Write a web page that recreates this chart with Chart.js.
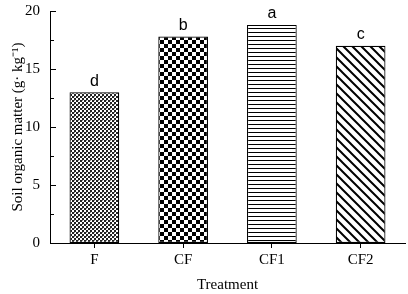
<!DOCTYPE html>
<html>
<head>
<meta charset="utf-8">
<script src="https://cdn.jsdelivr.net/npm/chart.js@4.4.1/dist/chart.umd.min.js"></script>
<style>
  html, body { margin: 0; padding: 0; background: #fff; }
  #wrap { width: 408px; height: 294px; }
</style>
</head>
<body>
<div id="wrap"><canvas id="myChart"></canvas></div>
<script>
// treatments and soil organic matter values (g kg-1)
let treatments = ['F', 'CF', 'CF1', 'CF2'];
let somValues = [13.0, 17.8, 18.8, 17.0];
// significance letters above bars
let sigLetters = ['d', 'b', 'a', 'c'];
// y axis ticks
let majorTicks = [0, 5, 10, 15, 20];
let minorTicks = [2.5, 7.5, 12.5, 17.5];

// make the fill patterns for each bar
function makePattern(kind) {
    let c = document.createElement('canvas');
    let ctx = c.getContext('2d');
    if (kind === 'fine') {
        c.width = 4; c.height = 4;
        ctx.fillStyle = '#fff';
        ctx.fillRect(0, 0, 4, 4);
        ctx.fillStyle = '#222';
        ctx.fillRect(0, 0, 2, 2);
        ctx.fillRect(2, 2, 2, 2);
        ctx.fillStyle = '#888';
        ctx.fillRect(2, 0, 1, 1);
    } else if (kind === 'checker') {
        c.width = 8; c.height = 8;
        ctx.fillStyle = '#fff';
        ctx.fillRect(0, 0, 8, 8);
        ctx.fillStyle = '#000';
        ctx.fillRect(0, 0, 4, 4);
        ctx.fillRect(4, 4, 4, 4);
    } else if (kind === 'hlines') {
        c.width = 4; c.height = 4;
        ctx.fillStyle = '#fff';
        ctx.fillRect(0, 0, 4, 4);
        ctx.fillStyle = '#000';
        ctx.fillRect(0, 0, 4, 1);
    } else {
        c.width = 9; c.height = 9;
        ctx.fillStyle = '#fff';
        ctx.fillRect(0, 0, 9, 9);
        ctx.strokeStyle = '#000';
        ctx.lineWidth = 2;
        ctx.beginPath();
        ctx.moveTo(-2, -2); ctx.lineTo(11, 11);
        ctx.moveTo(-2, 7); ctx.lineTo(2, 11);
        ctx.moveTo(7, -2); ctx.lineTo(11, 2);
        ctx.stroke();
    }
    return ctx.createPattern(c, 'repeat');
}

let patterns = [makePattern('fine'), makePattern('checker'), makePattern('hlines'), makePattern('diag')];

// draws inward y ticks and letters above the bars
const extras = {
    id: 'extras',
    afterDatasetsDraw(chart) {
        let ctx = chart.ctx;
        let y = chart.scales.y;
        let left = chart.chartArea.left;
        ctx.save();
        ctx.strokeStyle = '#000';
        ctx.lineWidth = 1;
        ctx.beginPath();
        majorTicks.forEach(v => {
            let py = Math.round(y.getPixelForValue(v)) + 0.5;
            ctx.moveTo(left, py); ctx.lineTo(left + 6, py);
        });
        minorTicks.forEach(v => {
            let py = Math.round(y.getPixelForValue(v)) + 0.5;
            ctx.moveTo(left, py); ctx.lineTo(left + 4, py);
        });
        ctx.stroke();

        let meta = chart.getDatasetMeta(0);
        ctx.fillStyle = '#000';
        ctx.font = '16px "Liberation Sans", Arial, sans-serif';
        ctx.textAlign = 'center';
        ctx.textBaseline = 'bottom';
        meta.data.forEach((bar, i) => {
            ctx.fillText(sigLetters[i], bar.x, bar.y - 3);
        });
        ctx.restore();
    }
};

let serif = '"Liberation Serif", "Times New Roman", serif';

new Chart(document.getElementById('myChart'), {
    type: 'bar',
    data: {
        labels: treatments,
        datasets: [{
            data: somValues,
            backgroundColor: patterns,
            borderColor: '#000',
            borderWidth: 1.2,
            borderSkipped: false,
            barPercentage: 0.56,
            categoryPercentage: 1
        }]
    },
    options: {
        responsive: true,
        maintainAspectRatio: false,
        animation: false,
        events: [],
        layout: { padding: { top: 2, right: 3, left: 9, bottom: 0 } },
        plugins: {
            legend: { display: false },
            tooltip: { enabled: false }
        },
        scales: {
            x: {
                offset: true,
                grid: { display: true, drawOnChartArea: false, tickLength: 5, color: '#000', offset: false },
                border: { color: '#000', width: 1 },
                ticks: { color: '#000', font: { family: serif, size: 15 }, padding: 3 },
                title: { display: true, text: 'Treatment', color: '#000', font: { family: serif, size: 15 }, padding: { top: 4, bottom: 0 } }
            },
            y: {
                min: 0,
                max: 20,
                afterFit(scale) { scale.width = 41; },
                grid: { display: false },
                border: { display: true, color: '#000', width: 1 },
                ticks: { stepSize: 5, color: '#000', font: { family: serif, size: 15 }, padding: 2 },
                title: { display: true, text: 'Soil organic matter (g· kg⁻¹)', color: '#000', font: { family: serif, size: 15 }, padding: { top: 0, bottom: 2 } }
            }
        }
    },
    plugins: [extras]
});
</script>
</body>
</html>
